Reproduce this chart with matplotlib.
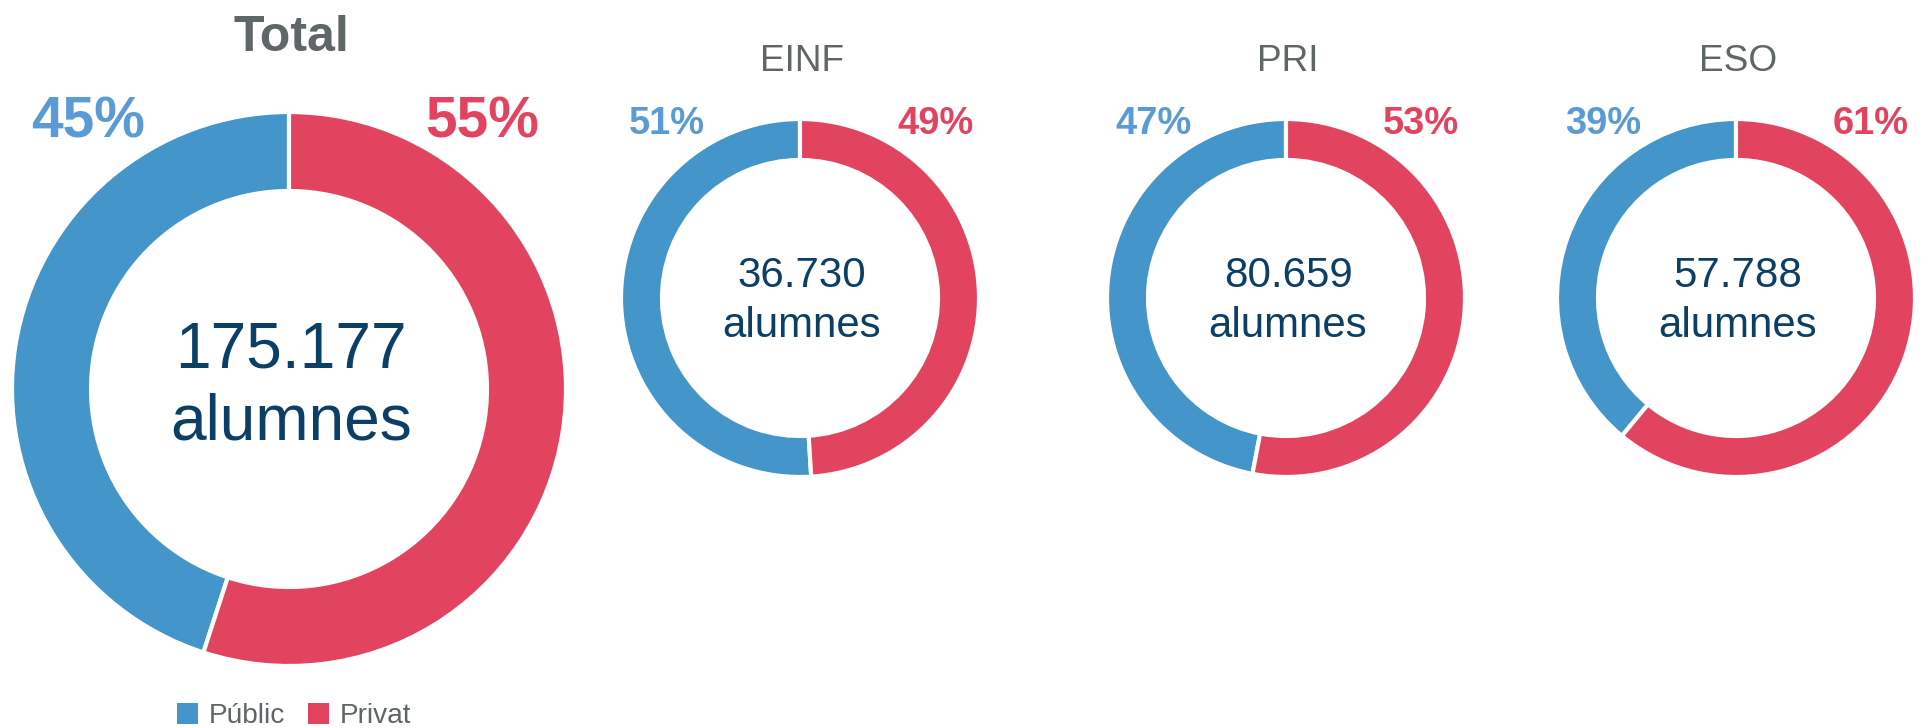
import matplotlib.pyplot as plt
from matplotlib.patches import Patch

plt.rcParams['font.family'] = ['Liberation Sans', 'DejaVu Sans']

# data
groups = ['Total', 'EINF', 'PRI', 'ESO']
public_pct = [45, 51, 47, 39]
private_pct = [55, 49, 53, 61]
students = ['175.177', '36.730', '80.659', '57.788']
series_names = ['Públic', 'Privat']

blue = '#4495c9'
red = '#e2445f'
blue_txt = '#5b9bd5'
red_txt = '#e2445f'
navy = '#0b3f66'
grey = '#5f6668'

W, H = 1921, 728
PT = 0.72  # px -> pt at dpi 100

# layout (pixels)
cx = [289, 800, 1286, 1736]
cy = [389, 298, 298, 298]
radius = [277, 179, 179, 179]
ring = [79, 41, 41, 41]

fig = plt.figure(figsize=(W / 100, H / 100), dpi=100)
ax = fig.add_axes([0, 0, 1, 1])

for i, name in enumerate(groups):
    x, y = cx[i], H - cy[i]
    big = i == 0
    ax.pie([public_pct[i], private_pct[i]], colors=[blue, red],
           startangle=90, counterclock=True, center=(x, y), radius=radius[i],
           wedgeprops=dict(width=ring[i], edgecolor='white', linewidth=3))

    # title
    if big:
        ax.text(x + 2, H - 51, name, ha='center', va='baseline',
                fontsize=50 * PT, fontweight='bold', color=grey)
    else:
        ax.text(x + 2, H - 71, name, ha='center', va='baseline',
                fontsize=37 * PT, color=grey)

    # percent labels
    if big:
        lx, rx, ly, fs = 201, 193, H - 138, 57 * PT
    else:
        lx, rx, ly, fs = 133, 135, H - 134, 38 * PT
    ax.text(x - lx, ly, f'{public_pct[i]}%', ha='center', va='baseline',
            fontsize=fs, fontweight='bold', color=blue_txt)
    ax.text(x + rx, ly, f'{private_pct[i]}%', ha='center', va='baseline',
            fontsize=fs, fontweight='bold', color=red_txt)

    # centre text
    if big:
        fs, d1, d2 = 64 * PT, 21, -51
    else:
        fs, d1, d2 = 42 * PT, 11, -39
    ax.text(x + 2, y + d1, students[i], ha='center', va='baseline',
            fontsize=fs, color=navy)
    ax.text(x + 2, y + d2, 'alumnes', ha='center', va='baseline',
            fontsize=fs, color=navy)

ax.set_xlim(0, W)
ax.set_ylim(0, H)
ax.set_aspect('auto')
ax.axis('off')

handles = [Patch(facecolor=blue), Patch(facecolor=red)]
fig.legend(handles, series_names, loc='center', bbox_to_anchor=(294 / W, 12 / H),
           ncol=2, frameon=False, fontsize=28 * PT, labelcolor=grey,
           handlelength=0.75, handleheight=0.75, handletextpad=0.4,
           columnspacing=0.8, borderpad=0)

fig.savefig('out.png', dpi=100)
